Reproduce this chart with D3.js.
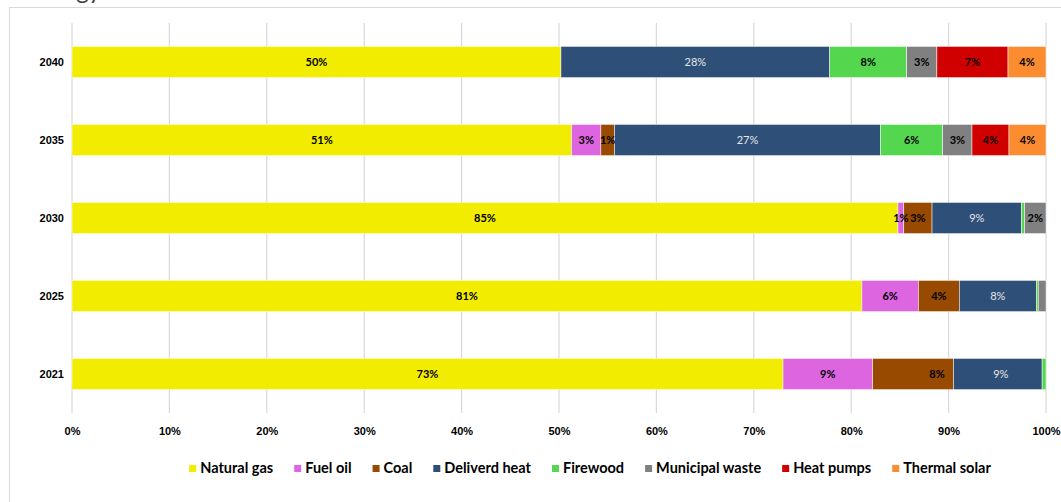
<!DOCTYPE html>
<meta charset="utf-8">
<style>
html, body { margin: 0; background: #fff; }
svg { display: block; font-family: Lato, "Open Sans", sans-serif; }
.grid line { stroke: #d9d9d9; stroke-width: 1.2; }
.axis text { font-size: 11px; font-weight: bold; fill: #000; }
.lbl { font-size: 11px; font-weight: bold; fill: #000; }
.lbl.light { font-weight: normal; fill: #e6e6e6; }
.legend text { font-size: 14.5px; font-weight: bold; fill: #000; }
</style>
<div id="chart"></div>
<script src="https://cdn.jsdelivr.net/npm/d3@7"></script>
<script>

// data, bottom row first, values in percent
var years = ["2021", "2025", "2030", "2035", "2040"];
var seriesNames = ["Natural gas", "Fuel oil", "Coal", "Deliverd heat", "Firewood", "Municipal waste", "Heat pumps", "Thermal solar"];
var naturalGas     = [73.0, 81.1, 84.8, 51.3, 50.2];
var fuelOil        = [ 9.2,  5.8,  0.6,  3.0,  0.0];
var coal           = [ 8.3,  4.2,  2.9,  1.4,  0.0];
var deliverdHeat   = [ 9.1,  7.9,  9.2, 27.3, 27.6];
var firewood       = [ 0.4,  0.2,  0.3,  6.4,  7.9];
var municipalWaste = [ 0.0,  0.8,  2.2,  3.0,  3.1];
var heatPumps      = [ 0.0,  0.0,  0.0,  3.8,  7.3];
var thermalSolar   = [ 0.0,  0.0,  0.0,  3.8,  3.9];
var xTicks = [0, 10, 20, 30, 40, 50, 60, 70, 80, 90, 100];
// labels the original chart leaves out
var hiddenLabels = ["2021|Firewood", "2025|Firewood", "2025|Municipal waste", "2030|Firewood"];

var colors = ["#f2ec00", "#dd66e0", "#974a00", "#2e5078", "#55d64f", "#808080", "#d00000", "#fb8c30"];
var allSeries = [naturalGas, fuelOil, coal, deliverdHeat, firewood, municipalWaste, heatPumps, thermalSolar];

// one row per year for the stack
var rows = years.map(function(y, i) {
  var r = {year: y};
  seriesNames.forEach(function(s, j) { r[s] = allSeries[j][i]; });
  return r;
});

var W = 1061, H = 502;
var margin = {top: 23, left: 72, right: 15, bottom: 89};

var svg = d3.select("#chart").append("svg")
    .attr("width", W)
    .attr("height", H);

// chart frame (runs off the right and bottom)
svg.append("rect")
    .attr("x", 9.5).attr("y", 7.5)
    .attr("width", 1200).attr("height", 700)
    .attr("fill", "none")
    .attr("stroke", "#d9d9d9");

// title, mostly above the visible area as in the original
svg.append("text")
    .attr("x", 101).attr("y", -1)
    .attr("text-anchor", "end")
    .style("font-size", "24px")
    .style("fill", "#404040")
    .text("Energy");

var x = d3.scaleLinear()
    .domain([0, 100])
    .range([margin.left, W - margin.right]);

var y = d3.scaleBand()
    .domain(years.slice().reverse())
    .range([margin.top, H - margin.bottom])
    .paddingInner(0.6)
    .paddingOuter(0.3);

svg.append("g")
    .attr("class", "grid")
  .selectAll("line")
    .data(xTicks)
  .enter().append("line")
    .attr("x1", function(d) { return x(d); })
    .attr("x2", function(d) { return x(d); })
    .attr("y1", margin.top)
    .attr("y2", H - margin.bottom);

var stack = d3.stack().keys(seriesNames);
var layers = stack(rows);

var g = svg.append("g");

layers.forEach(function(layer, k) {
  layer.forEach(function(d) {
    var w = x(d[1]) - x(d[0]);
    if (w <= 0) return;
    g.append("rect")
        .attr("x", x(d[0]))
        .attr("y", y(d.data.year))
        .attr("width", w)
        .attr("height", y.bandwidth())
        .attr("fill", colors[k])
        .attr("stroke", "#fff")
        .attr("stroke-width", 0.5);
  });
});

// data labels
var nudge = {"2021|Coal": 24, "2021|Deliverd heat": 3};
layers.forEach(function(layer, k) {
  var name = seriesNames[k];
  layer.forEach(function(d) {
    var v = d[1] - d[0];
    var key = d.data.year + "|" + name;
    if (v <= 0 || hiddenLabels.indexOf(key) >= 0) return;
    g.append("text")
        .attr("class", name === "Deliverd heat" ? "lbl light" : "lbl")
        .attr("x", x((d[0] + d[1]) / 2) + (nudge[key] || 0))
        .attr("y", y(d.data.year) + y.bandwidth() / 2 + 4)
        .attr("text-anchor", "middle")
        .text(Math.round(v) + "%");
  });
});

// axes
var yAxis = svg.append("g")
    .attr("class", "axis")
    .attr("transform", "translate(" + (margin.left - 8) + ",0)")
    .call(d3.axisLeft(y).tickSize(0).tickPadding(0));
yAxis.select(".domain").remove();

var xAxis = svg.append("g")
    .attr("class", "axis")
    .attr("transform", "translate(0," + (H - margin.bottom + 14) + ")")
    .call(d3.axisBottom(x).tickValues(xTicks).tickSize(0).tickPadding(0)
      .tickFormat(function(d) { return d + "%"; }));
xAxis.select(".domain").remove();

// legend
var gap = 21;
var legend = svg.append("g").attr("class", "legend");
var items = legend.selectAll("g")
    .data(seriesNames)
  .enter().append("g");
items.append("rect")
    .attr("width", 7).attr("height", 7)
    .attr("y", -8)
    .attr("fill", function(d, i) { return colors[i]; });
items.append("text")
    .attr("x", 11)
    .attr("y", 0)
    .text(function(d) { return d; });

var cx = 0;
items.each(function() {
  var item = d3.select(this);
  item.attr("transform", "translate(" + cx + ",0)");
  cx += 11 + item.select("text").node().getComputedTextLength() + gap;
});
var total = cx - gap;
legend.attr("transform", "translate(" + (590 - total / 2) + ",473)");

</script>
